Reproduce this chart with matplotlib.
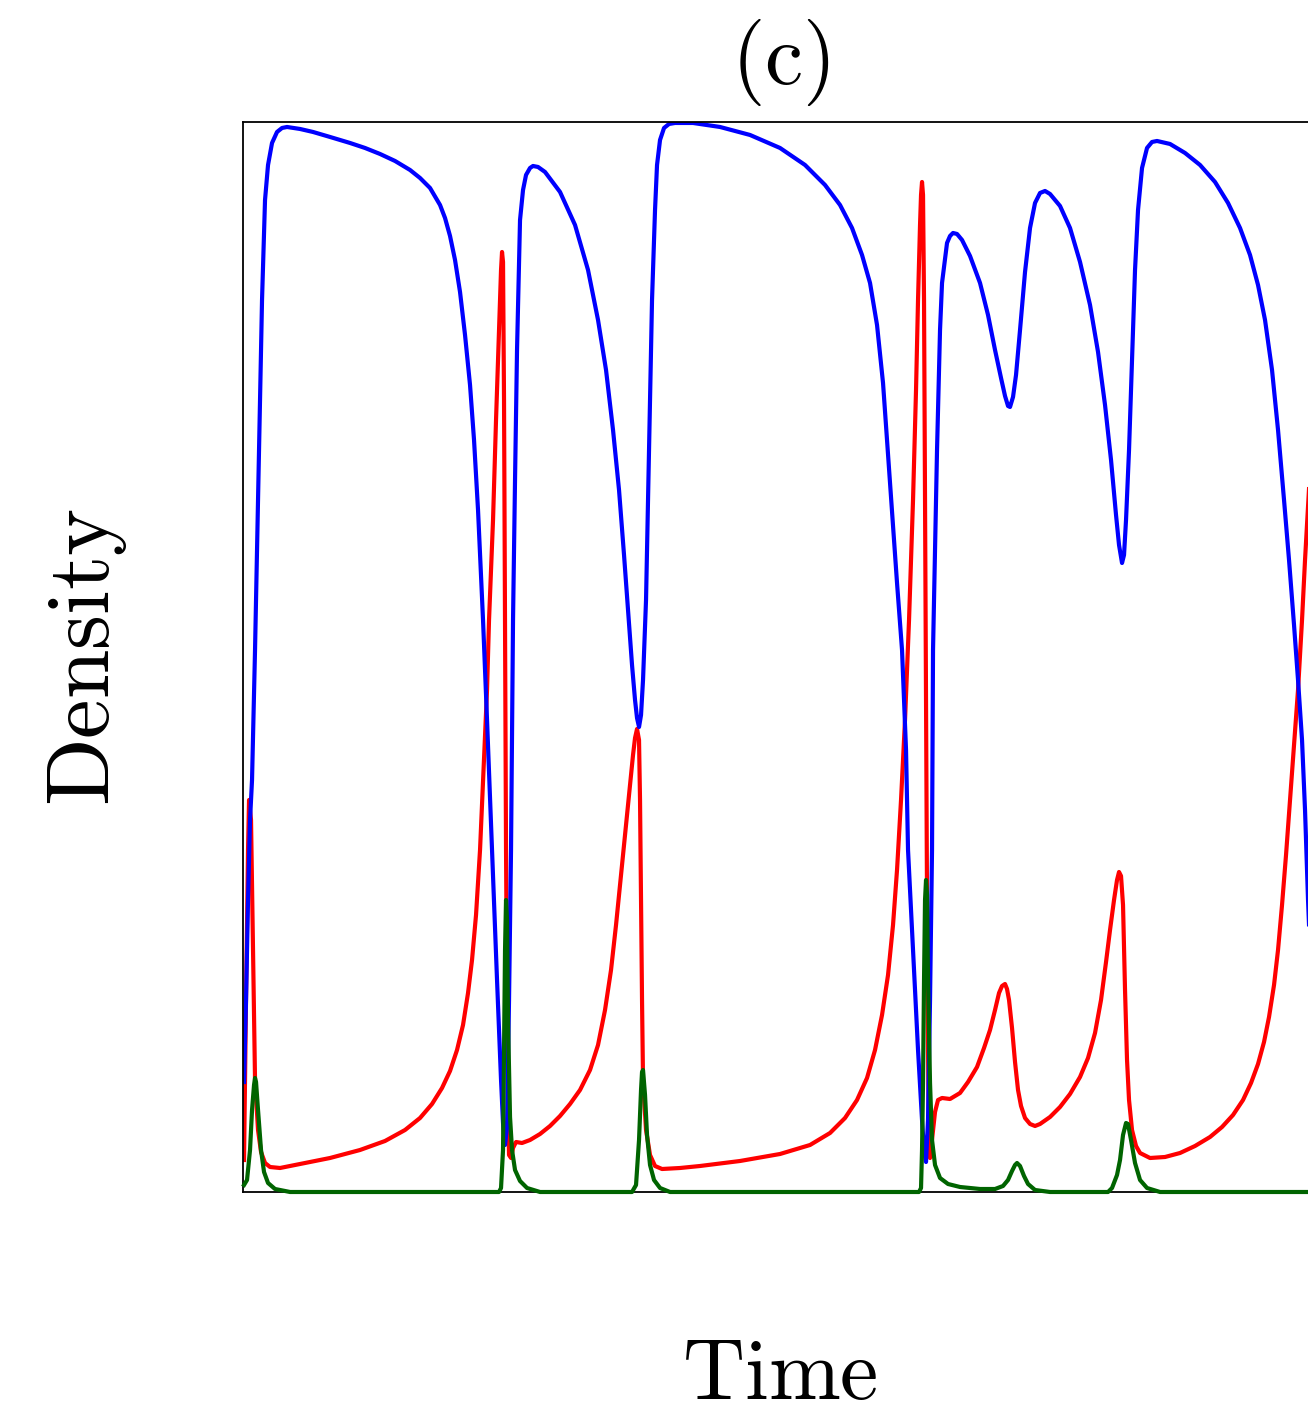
import matplotlib
matplotlib.use("Agg")
import matplotlib.pyplot as plt

plt.rcParams['mathtext.fontset'] = 'cm'

# time (arbitrary units) and densities (arbitrary units)
t_blue = [0.1, 0.3, 0.5, 0.7, 0.9, 1.2, 1.5, 1.7, 1.9, 2.2, 2.5, 2.9, 3.4, 3.9, 4.4, 5.7, 7.0, 8.7,
          10.7, 12.2, 13.7, 15.2, 16.7, 17.7, 18.7, 19.7, 20.2, 20.7, 21.2, 21.7, 22.2, 22.7, 23.1,
          23.5, 24.0, 24.4, 24.9, 25.4, 25.8, 26.0, 26.2, 26.4, 26.6, 26.8, 27.0, 27.2, 27.4, 27.7,
          28.0, 28.3, 28.7, 29.0, 29.5, 30.2, 31.7, 33.2, 34.5, 35.5, 36.3, 37.0, 37.6, 38.1, 38.5,
          38.9, 39.2, 39.4, 39.6, 39.8, 40.0, 40.3, 40.6, 40.9, 41.2, 41.4, 41.7, 42.1, 42.6, 43.2,
          45.0, 47.7, 50.7, 53.7, 56.2, 58.2, 59.7, 60.9, 61.9, 62.7, 63.4, 64.0, 64.7, 65.4, 65.9,
          66.3, 66.5, 67.0, 67.5, 67.9, 68.1, 68.3, 68.5, 68.7, 68.9, 69.0, 69.2, 69.4, 69.7, 69.9,
          70.4, 70.7, 71.0, 71.4, 71.9, 72.7, 73.7, 74.5, 75.2, 75.8, 76.2, 76.5, 76.7, 77.0, 77.3,
          77.7, 78.2, 78.7, 79.2, 79.7, 80.2, 80.7, 81.7, 82.7, 83.7, 84.7, 85.5, 86.2, 86.8, 87.3,
          87.6, 87.9, 88.1, 88.3, 88.6, 88.9, 89.2, 89.5, 89.9, 90.4, 90.9, 91.4, 92.7, 94.2, 95.7,
          97.2, 98.5, 99.7, 100.7, 101.5, 102.2, 102.9, 103.5, 104.1, 104.6, 105.1, 105.5, 105.9,
          106.2, 106.5, 106.9, 107.4]
blue = [1.10, 1.92, 2.92, 3.72, 4.12, 5.42, 6.92, 7.92, 8.92, 9.92, 10.27, 10.49, 10.60, 10.64,
        10.65, 10.63, 10.60, 10.55, 10.49, 10.44, 10.38, 10.31, 10.22, 10.14, 10.04, 9.87, 9.74,
        9.56, 9.32, 9.00, 8.57, 8.07, 7.52, 6.82, 5.72, 4.72, 3.42, 2.12, 1.12, 0.69, 0.47, 0.65,
        1.92, 3.42, 5.72, 7.12, 8.42, 9.72, 10.02, 10.17, 10.24, 10.26, 10.25, 10.20, 10.00, 9.67,
        9.22, 8.72, 8.22, 7.62, 7.02, 6.37, 5.82, 5.27, 4.92, 4.74, 4.65, 4.77, 5.12, 5.92, 7.42,
        8.92, 9.82, 10.27, 10.52, 10.64, 10.68, 10.69, 10.69, 10.65, 10.57, 10.44, 10.27, 10.07,
        9.87, 9.64, 9.37, 9.09, 8.67, 8.09, 7.09, 6.09, 5.42, 4.42, 3.42, 2.42, 1.42, 0.72, 0.42,
        0.30, 0.72, 1.92, 3.42, 5.42, 6.42, 7.42, 8.62, 9.09, 9.49, 9.56, 9.59, 9.58, 9.52, 9.36,
        9.09, 8.77, 8.42, 8.14, 7.96, 7.86, 7.85, 7.95, 8.17, 8.62, 9.20, 9.64, 9.89, 9.99, 10.01,
        9.98, 9.86, 9.64, 9.30, 8.87, 8.40, 7.87, 7.32, 6.77, 6.47, 6.29, 6.37, 6.72, 7.42, 8.32,
        9.22, 9.82, 10.24, 10.44, 10.50, 10.51, 10.48, 10.39, 10.27, 10.10, 9.89, 9.64, 9.37, 9.07,
        8.72, 8.22, 7.62, 6.92, 6.32, 5.67, 5.12, 4.52, 3.82, 2.92, 1.92, 1.12]

t_red = [0.1, 0.3, 0.5, 0.6, 0.8, 1.0, 1.2, 1.5, 1.8, 2.2, 2.7, 3.7, 5.7, 8.7, 11.7, 14.2, 16.2,
         17.7, 18.9, 19.9, 20.7, 21.4, 22.0, 22.5, 22.9, 23.3, 23.7, 24.1, 24.4, 24.6, 25.0, 25.3,
         25.6, 25.8, 25.9, 26.0, 26.1, 26.2, 26.3, 26.4, 26.5, 26.6, 26.8, 27.0, 27.3, 27.9, 28.7,
         29.7, 30.7, 31.7, 32.7, 33.7, 34.7, 35.5, 36.2, 36.8, 37.3, 37.8, 38.3, 38.7, 39.0, 39.2,
         39.4, 39.6, 39.7, 39.8, 39.9, 40.0, 40.3, 40.7, 41.2, 41.9, 43.7, 45.7, 49.7, 53.7, 56.7,
         58.7, 60.2, 61.4, 62.4, 63.2, 63.9, 64.5, 65.0, 65.4, 65.8, 66.2, 66.6, 67.0, 67.3, 67.5,
         67.7, 67.8, 67.9, 68.0, 68.1, 68.2, 68.3, 68.4, 68.5, 68.6, 68.7, 68.9, 69.2, 69.5, 69.9,
         70.7, 71.7, 72.5, 73.4, 74.1, 74.7, 75.2, 75.6, 75.9, 76.2, 76.4, 76.6, 76.9, 77.2, 77.5,
         77.8, 78.2, 78.7, 79.2, 79.7, 80.7, 81.7, 82.7, 83.7, 84.5, 85.2, 85.8, 86.3, 86.7, 87.1,
         87.4, 87.6, 87.8, 88.0, 88.2, 88.4, 88.6, 88.9, 89.3, 89.7, 90.7, 92.2, 93.7, 95.2, 96.7,
         97.9, 99.0, 100.0, 100.8, 101.5, 102.1, 102.6, 103.1, 103.5, 103.9, 104.3, 104.7, 105.1,
         105.5, 105.9, 106.2, 106.5, 106.9, 107.4]
red = [0.32, 1.92, 3.42, 3.92, 3.72, 2.42, 1.12, 0.62, 0.40, 0.29, 0.25, 0.24, 0.28, 0.34, 0.42,
       0.51, 0.62, 0.74, 0.88, 1.04, 1.21, 1.42, 1.67, 1.99, 2.32, 2.77, 3.42, 4.32, 5.02, 5.72,
       6.72, 7.72, 8.62, 9.22, 9.40, 9.30, 7.92, 5.72, 3.42, 1.92, 0.92, 0.37, 0.34, 0.44, 0.50,
       0.49, 0.52, 0.58, 0.66, 0.76, 0.88, 1.02, 1.22, 1.47, 1.82, 2.22, 2.67, 3.17, 3.67, 4.07,
       4.37, 4.54, 4.63, 4.52, 3.92, 2.92, 1.92, 1.12, 0.62, 0.37, 0.26, 0.23, 0.24, 0.26, 0.31,
       0.38, 0.47, 0.59, 0.74, 0.92, 1.14, 1.42, 1.77, 2.17, 2.67, 3.22, 3.92, 4.72, 5.72, 6.92,
       8.02, 8.92, 9.67, 9.97, 10.10, 9.97, 8.92, 6.92, 4.92, 2.92, 1.42, 0.42, 0.34, 0.52, 0.80,
       0.92, 0.94, 0.93, 0.99, 1.10, 1.25, 1.44, 1.62, 1.82, 1.99, 2.06, 2.08, 2.03, 1.92, 1.64,
       1.30, 1.02, 0.86, 0.74, 0.68, 0.66, 0.68, 0.75, 0.85, 0.98, 1.15, 1.34, 1.59, 1.92, 2.30,
       2.62, 2.92, 3.12, 3.20, 3.16, 2.87, 2.02, 1.32, 0.92, 0.62, 0.46, 0.39, 0.34, 0.35, 0.39,
       0.46, 0.55, 0.65, 0.77, 0.92, 1.09, 1.28, 1.50, 1.75, 2.07, 2.42, 2.87, 3.37, 3.92, 4.47,
       5.02, 5.72, 6.32, 6.87, 7.52, 8.22]

t_green = [0.1, 0.4, 0.7, 0.9, 1.1, 1.2, 1.3, 1.5, 1.8, 2.1, 2.5, 3.2, 4.7, 25.6, 25.8, 26.0, 26.1,
           26.2, 26.3, 26.4, 26.5, 26.7, 26.9, 27.2, 27.7, 28.4, 29.7, 38.9, 39.3, 39.6, 39.8, 39.9,
           40.0, 40.2, 40.4, 40.7, 41.1, 41.7, 42.7, 67.6, 67.8, 67.9, 68.0, 68.1, 68.2, 68.3, 68.4,
           68.5, 68.7, 68.9, 69.2, 69.7, 70.5, 71.7, 73.7, 75.2, 76.0, 76.5, 76.9, 77.2, 77.4, 77.7,
           78.1, 78.5, 79.2, 80.7, 86.5, 86.9, 87.4, 87.7, 88.0, 88.3, 88.5, 88.8, 89.2, 89.7, 90.4,
           91.7, 107.4]
green = [0.07, 0.12, 0.42, 0.82, 1.07, 1.14, 1.10, 0.82, 0.42, 0.20, 0.09, 0.03, 0.0, 0.0, 0.04,
         0.42, 1.42, 2.42, 2.92, 2.72, 1.72, 0.75, 0.42, 0.22, 0.11, 0.04, 0.0, 0.0, 0.07, 0.52,
         1.02, 1.20, 1.22, 0.97, 0.57, 0.27, 0.12, 0.04, 0.0, 0.0, 0.04, 0.42, 1.09, 2.12, 2.92,
         3.12, 2.97, 2.12, 1.09, 0.52, 0.27, 0.14, 0.08, 0.05, 0.03, 0.03, 0.06, 0.12, 0.21, 0.27,
         0.29, 0.26, 0.16, 0.08, 0.02, 0.0, 0.0, 0.04, 0.17, 0.32, 0.57, 0.69, 0.68, 0.52, 0.29,
         0.12, 0.04, 0.0, 0.0]

fig = plt.figure(figsize=(13.08, 14.15), dpi=100)
ax = fig.add_axes([0.1858, 0.1576, 0.8211, 0.7562])

ax.plot(t_red, red, color='#ff0000', lw=3.0)
ax.plot(t_blue, blue, color='#0000ff', lw=3.0)
ax.plot(t_green, green, color='#006400', lw=3.0, zorder=3, clip_on=False)

ax.set_xlim(0, 107.4)
ax.set_ylim(0, 10.7)
ax.set_xticks([])
ax.set_yticks([])
for s in ax.spines.values():
    s.set_linewidth(1.3)

ax.set_title(r'$\mathrm{(c)}$', fontsize=62, pad=27)
ax.set_xlabel(r'$\mathrm{Time}$', fontsize=62, labelpad=102)
ax.set_ylabel(r'$\mathrm{Density}$', fontsize=64, labelpad=82)

fig.savefig('out.png', dpi=100)
